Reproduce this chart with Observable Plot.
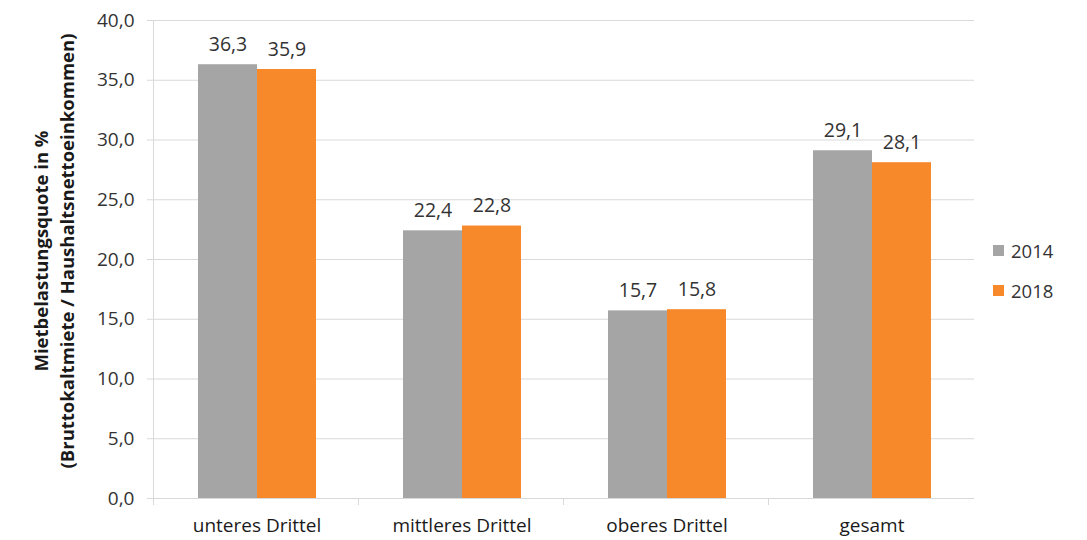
<!DOCTYPE html>
<html><head><meta charset="utf-8">
<script src="https://cdn.jsdelivr.net/npm/d3@7"></script>
<script src="https://cdn.jsdelivr.net/npm/@observablehq/plot@0.6"></script>
<style>
body{margin:0;background:#fff;font-family:"Open Sans",sans-serif;}
#wrap{position:relative;width:1087px;height:540px;overflow:hidden;}
#ytitle{position:absolute;left:54px;top:251px;transform:translate(-50%,-50%) rotate(-90deg);white-space:nowrap;text-align:center;font-weight:bold;font-size:18.5px;line-height:26px;color:#1a1a1a;}
.leg{position:absolute;left:993px;font-size:18.5px;color:#333;display:flex;align-items:center;}
.sw{width:11px;height:11px;margin-right:7px;display:inline-block;}
</style>
</head><body>
<div id="wrap"></div>
<script>
const categories = ["unteres Drittel", "mittleres Drittel", "oberes Drittel", "gesamt"];
const years = ["2014", "2018"];
const values2014 = [36.3, 22.4, 15.7, 29.1];
const values2018 = [35.9, 22.8, 15.8, 28.1];
const yTicks = [0, 5, 10, 15, 20, 25, 30, 35, 40];
const colors = ["#a5a5a5", "#f7892b"];
const yTitle = ["Mietbelastungsquote in %", "(Bruttokaltmiete / Haushaltsnettoeinkommen)"];

const data = categories.flatMap((c, i) => [
  {cat: c, year: years[0], value: values2014[i]},
  {cat: c, year: years[1], value: values2018[i]}
]);
const fmt = d => d.toFixed(1).replace(".", ",");
const gridColor = "#d9d9d9";
const textColor = "#333333";

const chart = Plot.plot({
  width: 1087, height: 540,
  marginLeft: 153, marginRight: 112, marginTop: 20, marginBottom: 42,
  style: {fontFamily: "Open Sans", fontSize: "14px", color: textColor, background: "white"},
  fx: {domain: categories, padding: 0, label: null, axis: null},
  x: {domain: years, paddingInner: 0, paddingOuter: 0.72, axis: null},
  y: {domain: [0, 40], axis: null},
  color: {domain: years, range: colors},
  marks: [
    Plot.ruleY(yTicks, {y: d => d, stroke: gridColor, strokeWidth: 1}),
    Plot.barY(data, {fx: "cat", x: "year", y: "value", fill: "year"}),
    Plot.text(data, {fx: "cat", x: "year", y: "value", text: d => fmt(d.value), dy: -20, fontSize: 19.5, fill: textColor}),
    Plot.axisY({ticks: yTicks, tickFormat: fmt, tickSize: 7, tickPadding: 13, stroke: gridColor, fill: textColor, fontSize: 19, label: null}),
    Plot.axisFx({anchor: "bottom", tickSize: 0, tickPadding: 20, fontSize: 19, fill: "#1a1a1a", label: null})
  ]
});

const wrap = document.getElementById("wrap");
wrap.appendChild(chart);

// axis line and category boundary ticks, placed from the plot's own scales
const fxS = chart.scale("fx");
const yS = chart.scale("y");
const svg = d3.select(chart);
const [r0] = fxS.range;
const step = fxS.step;
const y0 = yS.range[0], y1 = yS.range[1];
const g = svg.append("g").attr("stroke", gridColor).attr("stroke-width", 1);
g.append("line").attr("x1", r0 + 0.5).attr("x2", r0 + 0.5).attr("y1", y1).attr("y2", y0 + 7);
categories.forEach((c, i) => {
  if (i === 0) return;
  const xx = Math.round(r0 + i * step) + 0.5;
  g.append("line").attr("x1", xx).attr("x2", xx).attr("y1", y0).attr("y2", y0 + 7);
});

// y title
const t = document.createElement("div");
t.id = "ytitle";
t.innerHTML = yTitle.join("<br>");
wrap.appendChild(t);

// legend
years.forEach((yr, i) => {
  const d = document.createElement("div");
  d.className = "leg";
  d.style.top = (238 + i * 40) + "px";
  d.innerHTML = `<span class="sw" style="background:${colors[i]}"></span>${yr}`;
  wrap.appendChild(d);
});
</script>
</body></html>
